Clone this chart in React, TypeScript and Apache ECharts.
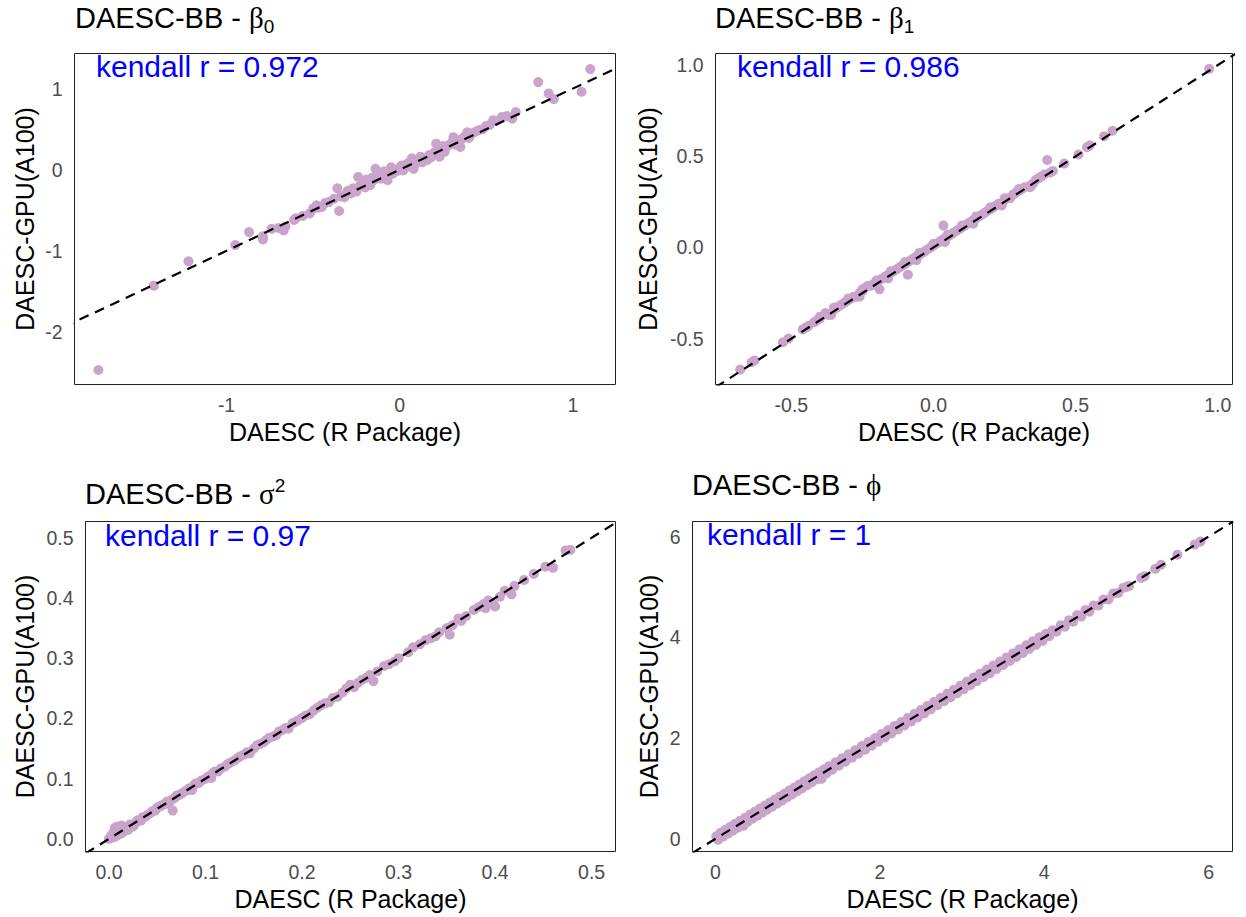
import React, { useEffect, useRef } from 'react';
import * as echarts from 'echarts';

// ---------- text ----------
const titleMain = 'DAESC-BB - ';
const titleGreek = ['β', 'β', 'σ', 'ϕ'];
const titleSub = ['0', '1', '', ''];
const titleSup = ['', '', '2', ''];
const kendallLabels = ['kendall r = 0.972', 'kendall r = 0.986', 'kendall r = 0.97', 'kendall r = 1'];
const xAxisTitle = 'DAESC (R Package)';
const yAxisTitle = 'DAESC-GPU(A100)';

// ---------- tick labels ----------
const xTicks = [[-1, 0, 1], [-0.5, 0, 0.5, 1], [0, 0.1, 0.2, 0.3, 0.4, 0.5], [0, 2, 4, 6]];
const yTicks = [[-2, -1, 0, 1], [-0.5, 0, 0.5, 1], [0, 0.1, 0.2, 0.3, 0.4, 0.5], [0, 2, 4, 6]];
const tickDecimals = [0, 1, 1, 0];

// ---------- axis limits ----------
const xLimits = [[-1.878, 1.246], [-0.767, 1.052], [-0.0243, 0.5247], [-0.28, 6.29]];
const yLimits = [[-2.649, 1.432], [-0.752, 1.064], [-0.021, 0.527], [-0.252, 6.298]];

// ---------- data: [DAESC (R), DAESC-GPU] ----------
const beta0 = [
  [-1.74, -2.47], [-1.42, -1.43], [-1.22, -1.13], [-0.95, -0.93], [-0.87, -0.77], [-0.79, -0.82], [-0.79, -0.86],
  [-0.74, -0.73], [-0.7, -0.72], [-0.67, -0.75], [-0.66, -0.7], [-0.61, -0.62], [-0.6, -0.6], [-0.56, -0.57],
  [-0.52, -0.54], [-0.5, -0.48], [-0.48, -0.44], [-0.47, -0.47], [-0.45, -0.46], [-0.43, -0.41], [-0.41, -0.4],
  [-0.38, -0.36], [-0.36, -0.23], [-0.35, -0.51], [-0.34, -0.33], [-0.32, -0.34], [-0.31, -0.3], [-0.3, -0.26],
  [-0.28, -0.29], [-0.27, -0.23], [-0.25, -0.27], [-0.24, -0.09], [-0.23, -0.2], [-0.22, -0.18], [-0.21, -0.15],
  [-0.2, -0.22], [-0.19, -0.12], [-0.18, -0.16], [-0.17, -0.19], [-0.16, -0.1], [-0.15, -0.13], [-0.14, 0.01],
  [-0.13, -0.09], [-0.12, -0.06], [-0.11, -0.11], [-0.1, -0.05], [-0.09, -0.02], [-0.08, -0.08], [-0.07, -0.13],
  [-0.06, -0.03], [-0.05, 0.03], [-0.04, -0.05], [-0.03, 0.0], [-0.02, -0.02], [-0.01, -0.01], [0.0, 0.02],
  [0.01, 0.05], [0.02, -0.01], [0.03, 0.03], [0.04, 0.07], [0.05, 0.04], [0.06, 0.1], [0.07, 0.14], [0.08, 0.01],
  [0.09, 0.07], [0.1, 0.11], [0.12, 0.16], [0.13, 0.09], [0.14, 0.13], [0.16, 0.12], [0.17, 0.18], [0.18, 0.15],
  [0.2, 0.21], [0.21, 0.32], [0.22, 0.24], [0.23, 0.16], [0.24, 0.26], [0.25, 0.29], [0.26, 0.22], [0.28, 0.3],
  [0.3, 0.33], [0.31, 0.4], [0.32, 0.31], [0.34, 0.36], [0.35, 0.28], [0.36, 0.38], [0.38, 0.42], [0.39, 0.46],
  [0.4, 0.39], [0.42, 0.45], [0.44, 0.47], [0.46, 0.49], [0.48, 0.5], [0.5, 0.54], [0.52, 0.55], [0.54, 0.61],
  [0.56, 0.6], [0.59, 0.65], [0.62, 0.66], [0.65, 0.63], [0.67, 0.71], [0.8, 1.08], [0.86, 0.94], [0.89, 0.87],
  [1.05, 0.96], [1.1, 1.24],
];

const beta1 = [
  [-0.68, -0.67], [-0.64, -0.63], [-0.63, -0.62], [-0.53, -0.52], [-0.51, -0.5], [-0.46, -0.45], [-0.45, -0.44],
  [-0.44, -0.43], [-0.42, -0.41], [-0.41, -0.4], [-0.4, -0.39], [-0.38, -0.36], [-0.37, -0.37], [-0.35, -0.34],
  [-0.34, -0.33], [-0.33, -0.32], [-0.32, -0.31], [-0.31, -0.3], [-0.3, -0.29], [-0.29, -0.28], [-0.28, -0.27],
  [-0.27, -0.27], [-0.26, -0.25], [-0.25, -0.24], [-0.24, -0.22], [-0.23, -0.21], [-0.22, -0.21], [-0.21, -0.2],
  [-0.2, -0.19], [-0.19, -0.23], [-0.19, -0.18], [-0.18, -0.17], [-0.17, -0.16], [-0.16, -0.15], [-0.15, -0.14],
  [-0.14, -0.13], [-0.13, -0.12], [-0.12, -0.11], [-0.11, -0.1], [-0.1, -0.09], [-0.09, -0.08], [-0.09, -0.15],
  [-0.08, -0.07], [-0.07, -0.06], [-0.06, -0.05], [-0.05, -0.04], [-0.04, -0.03], [-0.03, -0.02], [-0.02, -0.01],
  [-0.01, 0.0], [0.0, 0.01], [0.01, 0.02], [0.02, 0.03], [0.03, 0.04], [0.035, 0.12], [0.04, 0.05], [0.05, 0.06],
  [0.06, 0.07], [0.07, 0.08], [0.08, 0.09], [0.09, 0.1], [0.1, 0.11], [0.11, 0.12], [0.12, 0.13], [0.13, 0.14],
  [0.14, 0.15], [0.15, 0.16], [0.16, 0.17], [0.17, 0.18], [0.18, 0.19], [0.19, 0.2], [0.2, 0.21], [0.21, 0.22],
  [0.22, 0.23], [0.23, 0.24], [0.24, 0.24], [0.25, 0.26], [0.26, 0.27], [0.27, 0.27], [0.28, 0.29], [0.29, 0.3],
  [0.3, 0.31], [0.31, 0.32], [0.32, 0.33], [0.34, 0.34], [0.35, 0.35], [0.36, 0.37], [0.37, 0.38], [0.38, 0.39],
  [0.39, 0.4], [0.4, 0.48], [0.41, 0.41], [0.42, 0.42], [0.46, 0.46], [0.51, 0.51], [0.54, 0.55], [0.55, 0.56],
  [0.6, 0.61], [0.63, 0.64], [0.97, 0.98],
  [-0.4, -0.38], [-0.35, -0.33], [-0.3, -0.28], [-0.25, -0.23], [-0.2, -0.18], [-0.15, -0.13], [-0.1, -0.08],
  [-0.05, -0.03], [0.0, 0.02], [0.05, 0.07], [0.1, 0.12], [0.15, 0.17], [0.2, 0.22], [0.25, 0.27], [0.3, 0.32],
  [-0.36, -0.37], [-0.26, -0.27], [-0.16, -0.17], [-0.06, -0.07], [0.04, 0.03], [0.14, 0.13], [0.24, 0.23],
  [0.34, 0.33],
];

const sigma2 = [
  [0.0, 0.0], [0.002, 0.005], [0.004, 0.002], [0.005, 0.012], [0.006, 0.018], [0.007, 0.004], [0.008, 0.02],
  [0.009, 0.01], [0.01, 0.015], [0.012, 0.008], [0.013, 0.022], [0.015, 0.012], [0.016, 0.02], [0.018, 0.017],
  [0.02, 0.015], [0.022, 0.024], [0.024, 0.02], [0.026, 0.022], [0.028, 0.028], [0.03, 0.031], [0.033, 0.03],
  [0.035, 0.036], [0.038, 0.037], [0.04, 0.04], [0.043, 0.043], [0.045, 0.046], [0.048, 0.047], [0.05, 0.052],
  [0.053, 0.054], [0.055, 0.056], [0.058, 0.058], [0.06, 0.062], [0.062, 0.058], [0.065, 0.065], [0.066, 0.047],
  [0.068, 0.068], [0.07, 0.072], [0.073, 0.073], [0.076, 0.076], [0.08, 0.08], [0.083, 0.084], [0.086, 0.081],
  [0.088, 0.089], [0.09, 0.092], [0.093, 0.093], [0.096, 0.097], [0.1, 0.1], [0.103, 0.104], [0.106, 0.101],
  [0.108, 0.11], [0.11, 0.112], [0.113, 0.112], [0.116, 0.117], [0.12, 0.12], [0.123, 0.124], [0.126, 0.127],
  [0.13, 0.13], [0.133, 0.134], [0.136, 0.137], [0.14, 0.14], [0.143, 0.144], [0.146, 0.142], [0.15, 0.15],
  [0.153, 0.155], [0.156, 0.157], [0.16, 0.16], [0.163, 0.164], [0.166, 0.168], [0.17, 0.17], [0.173, 0.172],
  [0.176, 0.178], [0.18, 0.181], [0.183, 0.184], [0.186, 0.183], [0.19, 0.192], [0.193, 0.194], [0.196, 0.197],
  [0.2, 0.201], [0.204, 0.205], [0.208, 0.207], [0.212, 0.213], [0.216, 0.218], [0.22, 0.222], [0.224, 0.225],
  [0.228, 0.227], [0.232, 0.234], [0.237, 0.236], [0.242, 0.243], [0.246, 0.25], [0.25, 0.256], [0.254, 0.252],
  [0.258, 0.259], [0.262, 0.264], [0.266, 0.267], [0.27, 0.272], [0.274, 0.262], [0.278, 0.278], [0.285, 0.287],
  [0.29, 0.29], [0.296, 0.295], [0.3, 0.3], [0.31, 0.31], [0.315, 0.318], [0.322, 0.323], [0.328, 0.33],
  [0.333, 0.333], [0.338, 0.336], [0.342, 0.343], [0.35, 0.35], [0.353, 0.339], [0.356, 0.355], [0.362, 0.366],
  [0.365, 0.362], [0.37, 0.37], [0.378, 0.38], [0.383, 0.385], [0.388, 0.39], [0.39, 0.383], [0.393, 0.396],
  [0.398, 0.39], [0.4, 0.386], [0.405, 0.402], [0.41, 0.412], [0.417, 0.406], [0.42, 0.42], [0.43, 0.43],
  [0.44, 0.44], [0.452, 0.452], [0.46, 0.45], [0.473, 0.479], [0.478, 0.48],
];

const phi = [
  [0.01, 0.05], [0.03, -0.02], [0.06, 0.12], [0.09, 0.04], [0.12, 0.18], [0.15, 0.1], [0.18, 0.24], [0.21, 0.16],
  [0.24, 0.3], [0.27, 0.22], [0.3, 0.36], [0.33, 0.28], [0.34, 0.26], [0.36, 0.42], [0.39, 0.34], [0.42, 0.48],
  [0.45, 0.4], [0.48, 0.54], [0.51, 0.46], [0.54, 0.6], [0.57, 0.52], [0.6, 0.66], [0.63, 0.58], [0.66, 0.72],
  [0.69, 0.64], [0.72, 0.78], [0.75, 0.7], [0.78, 0.84], [0.81, 0.76], [0.84, 0.9], [0.87, 0.82], [0.9, 0.96],
  [0.93, 0.88], [0.96, 1.02], [0.99, 0.94], [1.02, 1.08], [1.05, 1.0], [1.08, 1.14], [1.11, 1.06], [1.14, 1.2],
  [1.17, 1.12], [1.2, 1.26], [1.23, 1.18], [1.26, 1.32], [1.29, 1.19], [1.29, 1.24], [1.32, 1.38], [1.35, 1.3],
  [1.38, 1.44], [1.42, 1.37], [1.46, 1.52], [1.5, 1.45], [1.54, 1.6], [1.58, 1.53], [1.62, 1.68], [1.66, 1.61],
  [1.7, 1.76], [1.74, 1.69], [1.78, 1.84], [1.82, 1.77], [1.86, 1.92], [1.9, 1.85], [1.94, 2.0], [1.98, 1.93],
  [2.02, 2.08], [2.06, 2.01], [2.1, 2.16], [2.14, 2.09], [2.18, 2.24], [2.22, 2.17], [2.26, 2.32], [2.3, 2.25],
  [2.34, 2.4], [2.38, 2.33], [2.42, 2.48], [2.46, 2.41], [2.5, 2.56], [2.54, 2.49], [2.58, 2.64], [2.62, 2.57],
  [2.66, 2.72], [2.7, 2.65], [2.74, 2.8], [2.78, 2.73], [2.82, 2.88], [2.86, 2.81], [2.9, 2.96], [2.94, 2.89],
  [2.98, 3.04], [3.02, 2.97], [3.06, 3.12], [3.1, 3.05], [3.14, 3.2], [3.18, 3.13], [3.22, 3.28], [3.26, 3.21],
  [3.3, 3.36], [3.34, 3.29], [3.38, 3.44], [3.42, 3.37], [3.46, 3.52], [3.5, 3.45], [3.54, 3.6], [3.58, 3.53],
  [3.62, 3.68], [3.66, 3.61], [3.7, 3.76], [3.74, 3.69], [3.78, 3.84], [3.82, 3.77], [3.86, 3.92], [3.9, 3.85],
  [3.94, 4.0], [3.98, 3.93], [4.02, 4.07], [4.06, 4.02], [4.1, 4.14], [4.15, 4.11], [4.2, 4.24], [4.25, 4.21],
  [4.3, 4.34], [4.35, 4.31], [4.4, 4.44], [4.45, 4.41], [4.5, 4.54], [4.55, 4.51], [4.6, 4.63], [4.66, 4.63],
  [4.72, 4.75], [4.78, 4.75], [4.84, 4.87], [4.9, 4.88], [4.96, 4.98], [5.0, 5.0], [5.03, 5.02], [5.18, 5.18],
  [5.22, 5.21], [5.35, 5.36], [5.42, 5.44], [5.62, 5.64], [5.83, 5.84], [5.9, 5.9],
];

const panelData = [beta0, beta1, sigma2, phi];

// ---------- layout ----------
const grids = [
  { left: 74.5, top: 53.5, width: 541, height: 331 },
  { left: 715.5, top: 53.5, width: 517, height: 331 },
  { left: 85.5, top: 521.5, width: 530, height: 330 },
  { left: 692.5, top: 521.5, width: 540, height: 330 },
];
const titlePos = [[75, 18], [715, 18], [85, 494], [692, 485]];
const kendallPos = [[96, 66], [737, 66], [105, 535], [707, 534]];
const xTitleY = [432, 432, 899, 899];
const yTitleX = [25, 648, 25, 649];

const SANS = '"Liberation Sans", Arial, Helvetica, sans-serif';
const GREEK = '"Liberation Serif", "DejaVu Serif", serif';
const POINT_COLOR = '#CAA4CB';

export default function App() {
  const ref = useRef<HTMLDivElement>(null);

  useEffect(() => {
    if (!ref.current) return;
    const chart = echarts.init(ref.current, undefined, { renderer: 'svg' });

    const xAxes: any[] = [];
    const yAxes: any[] = [];
    const series: any[] = [];
    const graphics: any[] = [];

    grids.forEach((g, i) => {
      const dec = tickDecimals[i];
      const fmt = (v: number) => Number(v).toFixed(dec);
      xAxes.push({
        type: 'value', gridIndex: i, min: xLimits[i][0], max: xLimits[i][1],
        axisLine: { show: false }, axisTick: { show: false }, splitLine: { show: false },
        axisLabel: {
          customValues: xTicks[i], formatter: fmt, color: '#4D4D4D', fontSize: 19.5,
          fontFamily: SANS, margin: 10, showMinLabel: true, showMaxLabel: true,
        },
      });
      yAxes.push({
        type: 'value', gridIndex: i, min: yLimits[i][0], max: yLimits[i][1],
        axisLine: { show: false }, axisTick: { show: false }, splitLine: { show: false },
        axisLabel: {
          customValues: yTicks[i], formatter: fmt, color: '#4D4D4D', fontSize: 19.5,
          fontFamily: SANS, margin: 12, showMinLabel: true, showMaxLabel: true,
        },
      });

      series.push({
        type: 'scatter', xAxisIndex: i, yAxisIndex: i, data: panelData[i],
        symbol: 'circle', symbolSize: 10, itemStyle: { color: POINT_COLOR, opacity: 1 },
        z: 2, silent: true,
      });
      const lo = Math.min(xLimits[i][0], yLimits[i][0]);
      const hi = Math.max(xLimits[i][1], yLimits[i][1]);
      series.push({
        type: 'line', xAxisIndex: i, yAxisIndex: i, data: [[lo, lo], [hi, hi]],
        showSymbol: false, symbol: 'none', clip: true, z: 3, silent: true,
        lineStyle: { color: '#000', width: 2.2, type: [10, 7] },
      });

      // panel title
      let rt = `{m|${titleMain}}{g|${titleGreek[i]}}`;
      if (titleSub[i]) rt += `{s|${titleSub[i]}}`;
      if (titleSup[i]) rt += `{p|${titleSup[i]}}`;
      graphics.push({
        type: 'text', x: titlePos[i][0], y: titlePos[i][1], z: 10,
        style: {
          text: rt, fill: '#000', align: 'left', verticalAlign: 'middle',
          fontFamily: SANS, fontSize: 29,
          rich: {
            m: { fontFamily: SANS, fontSize: 29, color: '#000', lineHeight: 36 },
            g: { fontFamily: GREEK, fontSize: 29, color: '#000', lineHeight: 36 },
            s: { fontFamily: SANS, fontSize: 19, color: '#000', lineHeight: 18, verticalAlign: 'bottom' },
            p: { fontFamily: SANS, fontSize: 19, color: '#000', lineHeight: 18, verticalAlign: 'top' },
          },
        },
      });
      // kendall annotation
      graphics.push({
        type: 'text', x: kendallPos[i][0], y: kendallPos[i][1], z: 10,
        style: {
          text: kendallLabels[i], fill: '#0000FF', align: 'left', verticalAlign: 'middle',
          fontFamily: SANS, fontSize: 30,
        },
      });
      // x axis title
      graphics.push({
        type: 'text', x: g.left + g.width / 2, y: xTitleY[i], z: 10,
        style: {
          text: xAxisTitle, fill: '#000', align: 'center', verticalAlign: 'middle',
          fontFamily: SANS, fontSize: 25,
        },
      });
      // y axis title
      graphics.push({
        type: 'text', x: yTitleX[i], y: g.top + g.height / 2, rotation: Math.PI / 2, z: 10,
        style: {
          text: yAxisTitle, fill: '#000', align: 'center', verticalAlign: 'middle',
          fontFamily: SANS, fontSize: 25,
        },
      });
    });

    chart.setOption({
      animation: false,
      backgroundColor: '#fff',
      grid: grids.map((g) => ({
        ...g, show: true, borderColor: '#222', borderWidth: 1, backgroundColor: 'transparent',
        containLabel: false,
      })),
      xAxis: xAxes,
      yAxis: yAxes,
      series,
      graphic: graphics,
    });

    return () => chart.dispose();
  }, []);

  return (
    <div
      ref={ref}
      style={{ position: 'absolute', left: 0, top: 0, width: 1246, height: 917, background: '#fff' }}
    />
  );
}
